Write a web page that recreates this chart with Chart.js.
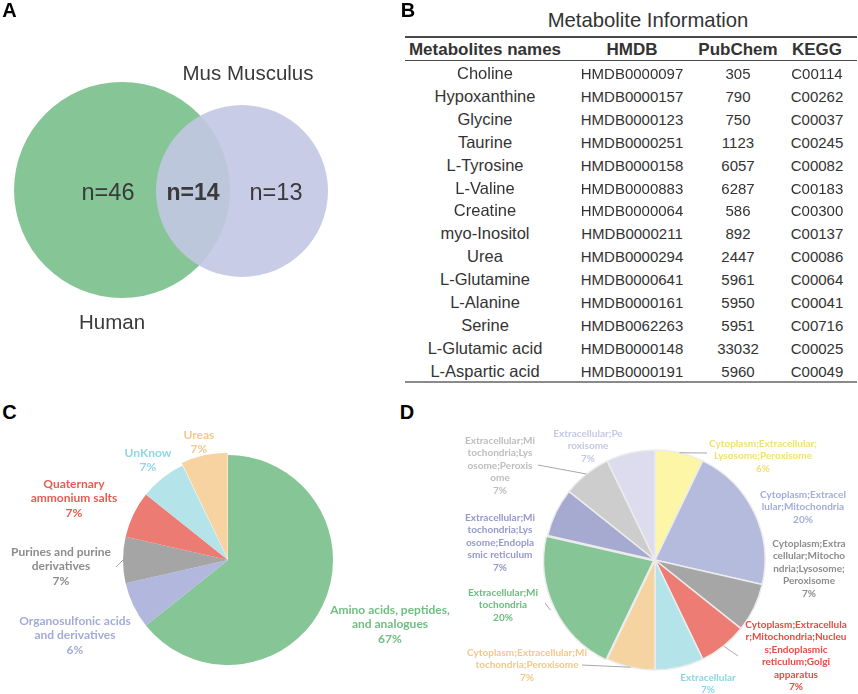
<!DOCTYPE html>
<html>
<head>
<meta charset="utf-8">
<script src="https://cdn.jsdelivr.net/npm/chart.js@4.4.1/dist/chart.umd.min.js"></script>
<style>
    body { margin: 0; background: #fff; }
    #page { position: relative; width: 858px; height: 694px; overflow: hidden; font-family: 'Liberation Sans', Arial, sans-serif; color: #3a3a3a; }
    .box { position: absolute; }
    .txt { position: absolute; transform: translate(-50%, -50%); white-space: nowrap; }
    .panel { position: absolute; transform: translate(-50%, -50%); font-weight: bold; font-size: 20px; color: #000; }
    .lbl { position: absolute; transform: translateX(-50%); text-align: center; white-space: pre; font-family: Lato, 'Open Sans', sans-serif; font-weight: bold; }
    .hline { position: absolute; }
</style>
</head>
<body>
<div id="page">
    <div class="box" style="left:0;top:0;width:400px;height:330px"><canvas id="vennA" width="400" height="330"></canvas></div>
    <div class="box" style="left:103px;top:435px;width:250px;height:250px"><canvas id="pieC" width="250" height="250"></canvas></div>
    <div class="box" style="left:530px;top:435px;width:250px;height:250px"><canvas id="pieD" width="250" height="250"></canvas></div>

    <div class="panel" style="left:9.5px;top:10px">A</div>
    <div class="panel" style="left:408px;top:10px">B</div>
    <div class="panel" style="left:9.5px;top:412px">C</div>
    <div class="panel" style="left:407px;top:412px">D</div>
</div>
<script>
// ---------- data ----------
// Venn (A): only human, shared, only mouse
var vennSets = ['Human', 'Mus Musculus'];
var vennCounts = [46, 14, 13];

// Table (B)
var tableTitle = 'Metabolite Information';
var tableHeaders = ['Metabolites names', 'HMDB', 'PubChem', 'KEGG'];
var metaboliteNames = ['Choline', 'Hypoxanthine', 'Glycine', 'Taurine', 'L-Tyrosine', 'L-Valine', 'Creatine',
    'myo-Inositol', 'Urea', 'L-Glutamine', 'L-Alanine', 'Serine', 'L-Glutamic acid', 'L-Aspartic acid'];
var hmdbIds = ['HMDB0000097', 'HMDB0000157', 'HMDB0000123', 'HMDB0000251', 'HMDB0000158', 'HMDB0000883', 'HMDB0000064',
    'HMDB0000211', 'HMDB0000294', 'HMDB0000641', 'HMDB0000161', 'HMDB0062263', 'HMDB0000148', 'HMDB0000191'];
var pubchemIds = ['305', '790', '750', '1123', '6057', '6287', '586', '892', '2447', '5961', '5950', '5951', '33032', '5960'];
var keggIds = ['C00114', 'C00262', 'C00037', 'C00245', 'C00082', 'C00183', 'C00300', 'C00137', 'C00086', 'C00064',
    'C00041', 'C00716', 'C00025', 'C00049'];

// Chemical classes (C)
var classNames = ['Amino acids, peptides, and analogues', 'Organosulfonic acids and derivatives',
    'Purines and purine derivatives', 'Quaternary ammonium salts', 'UnKnow', 'Ureas'];
var classCounts = [9, 1, 1, 1, 1, 1];
var classPercents = ['67%', '6%', '7%', '7%', '7%', '7%'];

// Locations (D)
var locationNames = ['Cytoplasm;Extracellular;Lysosome;Peroxisome', 'Cytoplasm;Extracellular;Mitochondria',
    'Cytoplasm;Extracellular;Mitochondria;Lysosome;Peroxisome',
    'Cytoplasm;Extracellular;Mitochondria;Nucleus;Endoplasmic reticulum;Golgi apparatus',
    'Extracellular', 'Cytoplasm;Extracellular;Mitochondria;Peroxisome', 'Extracellular;Mitochondria',
    'Extracellular;Mitochondria;Lysosome;Endoplasmic reticulum', 'Extracellular;Mitochondria;Lysosome;Peroxisome',
    'Extracellular;Peroxisome'];
var locationCounts = [1, 3, 1, 1, 1, 1, 3, 1, 1, 1];
var locationPercents = ['6%', '20%', '7%', '7%', '7%', '7%', '20%', '7%', '7%', '7%'];

// ---------- helpers ----------
var page = document.getElementById('page');

function addText(x, y, text, css) {
    var d = document.createElement('div');
    d.className = 'txt';
    d.style.left = x + 'px';
    d.style.top = y + 'px';
    d.style.cssText += css || '';
    d.textContent = text;
    page.appendChild(d);
    return d;
}

// Split a label at fixed character positions (the wrapping of the original)
function splitAt(text, breaks) {
    var lines = [], start = 0;
    breaks.forEach(function (b) {
        lines.push(text.slice(start, b).trim());
        start = b;
    });
    lines.push(text.slice(start).trim());
    return lines;
}

function addLabel(x, top, lines, color, size, lh) {
    var d = document.createElement('div');
    d.className = 'lbl';
    d.style.left = x + 'px';
    d.style.top = top + 'px';
    d.style.color = color;
    d.style.fontSize = size + 'px';
    d.style.lineHeight = lh + 'px';
    d.textContent = lines.join('\n');
    page.appendChild(d);
}

// Plugin for the thin leader lines from slice edges to the labels
var leaderPlugin = {
    id: 'leaders',
    afterDatasetsDraw: function (chart, args, opts) {
        var meta = chart.getDatasetMeta(0);
        var offsets = chart.data.datasets[0].offset || [];
        var ctx = chart.ctx;
        (opts.lines || []).forEach(function (l) {
            var p = meta.data[l.index].getProps(['x', 'y', 'startAngle', 'endAngle', 'outerRadius'], true);
            var mid = (p.startAngle + p.endAngle) / 2;
            var r = p.outerRadius + (offsets[l.index] || 0);
            ctx.save();
            ctx.strokeStyle = '#a8a8a8';
            ctx.lineWidth = 1;
            ctx.beginPath();
            ctx.moveTo(p.x + Math.cos(mid) * r, p.y + Math.sin(mid) * r);
            ctx.lineTo(l.x - opts.left, l.y - opts.top);
            ctx.stroke();
            ctx.restore();
        });
    }
};

// ---------- A: Venn as two bubbles ----------
var vennCircles = [{ x: 122, y: 190, r: 108 }, { x: 242, y: 191, r: 86 }];

new Chart(document.getElementById('vennA'), {
    type: 'bubble',
    data: {
        datasets: [{
            data: vennCircles.map(function (c) { return { x: c.x, y: c.y, r: c.r }; }),
            backgroundColor: ['#86c696', 'rgba(195,199,227,0.9)'],
            borderWidth: 0,
            hoverRadius: 0,
            clip: false
        }]
    },
    options: {
        responsive: false,
        animation: false,
        events: [],
        layout: { padding: 0, autoPadding: false },
        scales: {
            x: { type: 'linear', min: 0, max: 400, display: false },
            y: { type: 'linear', min: 0, max: 330, reverse: true, display: false }
        },
        plugins: { legend: { display: false }, tooltip: { enabled: false } }
    }
});

addText(248, 73, vennSets[1], 'font-size:20.5px');
addText(112, 322, vennSets[0], 'font-size:20.5px');
addText(108, 192, 'n=' + vennCounts[0], 'font-size:23.5px');
addText(193, 192, 'n=' + vennCounts[1], 'font-size:23px;font-weight:bold');
addText(276, 192, 'n=' + vennCounts[2], 'font-size:23.5px');

// ---------- B: table ----------
addText(648, 20, tableTitle, 'font-size:20.3px;color:#333');
var colCenters = [485, 632, 738, 817];
tableHeaders.forEach(function (h, i) {
    addText(colCenters[i], 49.5, h, 'font-size:17px;font-weight:bold;color:#333');
});
var columns = [metaboliteNames, hmdbIds, pubchemIds, keggIds];
metaboliteNames.forEach(function (n, r) {
    var y = 73 + r * 22.9;
    columns.forEach(function (col, c) {
        addText(colCenters[c], y, col[r], 'font-size:' + (c === 0 ? 16.5 : 15) + 'px;color:#333');
    });
});
[[36.5, 2, '#4a4a4a'], [60.5, 1.5, '#4a4a4a'], [381.5, 2, '#8a8a8a']].forEach(function (ln) {
    var d = document.createElement('div');
    d.className = 'hline';
    d.style.cssText += 'left:405px;width:452px;top:' + (ln[0] - ln[1] / 2) + 'px;height:' + ln[1] + 'px;background:' + ln[2];
    page.appendChild(d);
});

// ---------- C: chemical classes pie ----------
var classColors = ['#86c696', '#b2b7dd', '#a5a5a5', '#ec7c73', '#b5e3ea', '#f6d3a0'];
var classTextColors = ['#6fbf83', '#a4abd6', '#8c8c8c', '#ea5a50', '#8fd7e4', '#f4c88c'];

new Chart(document.getElementById('pieC'), {
    type: 'pie',
    data: {
        labels: classNames,
        datasets: [{
            data: classCounts,
            backgroundColor: classColors,
            borderWidth: 0,
            offset: [0, 0, 0, 0, 0, 6]
        }]
    },
    options: {
        responsive: false,
        animation: false,
        events: [],
        radius: 105,
        plugins: {
            legend: { display: false },
            tooltip: { enabled: false },
            leaders: { left: 103, top: 435, lines: [{ index: 2, x: 116, y: 567 }] }
        }
    },
    plugins: [leaderPlugin]
});

var classLabelPos = [
    { x: 390, top: 602.7, breaks: [22] },
    { x: 75, top: 613.7, breaks: [20] },
    { x: 61, top: 544.7, breaks: [18] },
    { x: 74, top: 476.7, breaks: [10] },
    { x: 148, top: 445.7, breaks: [] },
    { x: 199, top: 427.7, breaks: [] }
];
classNames.forEach(function (name, i) {
    var p = classLabelPos[i];
    addLabel(p.x, p.top, splitAt(name, p.breaks).concat([classPercents[i]]), classTextColors[i], 12, 14.7);
});

// ---------- D: locations pie ----------
var locationColors = ['#fcf6a6', '#b4bbdc', '#a6a6a6', '#ec7c74', '#b4e3ea', '#f6d4a2', '#86c696', '#a7aad0', '#cdcdcd', '#dcdcee'];
var locationTextColors = ['#f0e270', '#a4acd8', '#8c8c8c', '#ea4a42', '#8ed5e2', '#f4c78a', '#6cbc80', '#9499cb', '#bdbdbd', '#c5c8e5'];

new Chart(document.getElementById('pieD'), {
    type: 'pie',
    data: {
        labels: locationNames,
        datasets: [{
            data: locationCounts,
            backgroundColor: locationColors,
            borderColor: '#ececec',
            borderWidth: 1.5,
            offset: [0, 0, 0, 0, 0, 0, 6, 0, 0, 0]
        }]
    },
    options: {
        responsive: false,
        animation: false,
        events: [],
        radius: 110,
        plugins: {
            legend: { display: false },
            tooltip: { enabled: false },
            leaders: {
                left: 530, top: 435, lines: [
                    { index: 0, x: 707, y: 453 },
                    { index: 3, x: 738, y: 656 },
                    { index: 5, x: 582, y: 665 },
                    { index: 6, x: 545, y: 603 },
                    { index: 8, x: 538, y: 465 }
                ]
            }
        }
    },
    plugins: [leaderPlugin]
});

var locationLabelPos = [
    { x: 763, top: 436.75, breaks: [24] },
    { x: 803, top: 487.75, breaks: [18] },
    { x: 809, top: 536.75, breaks: [15, 31, 46] },
    { x: 796, top: 617.75, breaks: [22, 43, 56, 72] },
    { x: 708, top: 670.75, breaks: [] },
    { x: 527, top: 645.75, breaks: [26] },
    { x: 503, top: 585.75, breaks: [16] },
    { x: 500, top: 510.75, breaks: [16, 30, 43] },
    { x: 500, top: 433.75, breaks: [16, 30, 43] },
    { x: 588, top: 426.75, breaks: [16] }
];
locationNames.forEach(function (name, i) {
    var p = locationLabelPos[i];
    addLabel(p.x, p.top, splitAt(name, p.breaks).concat([locationPercents[i]]), locationTextColors[i], 10, 12.5);
});
</script>
</body>
</html>
